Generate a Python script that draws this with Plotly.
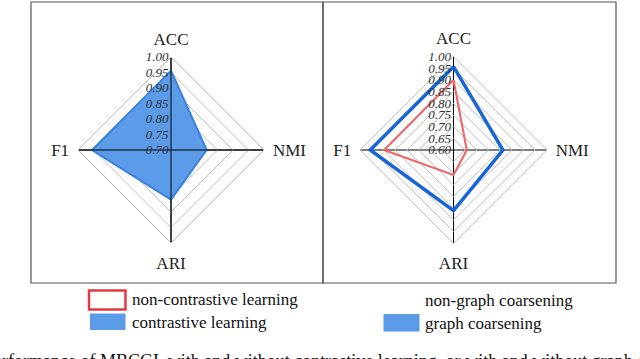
import plotly.graph_objects as go

# ---------------- data ----------------
metrics = ["ACC", "NMI", "ARI", "F1"]

# left panel: with contrastive learning
contrastive = [0.956, 0.815, 0.860, 0.955]

# right panel
graph_coarsening = [0.957, 0.812, 0.860, 0.957]
non_graph_coarsening = [0.900, 0.657, 0.707, 0.897]

left_range = [0.70, 1.00]
right_range = [0.60, 1.00]
tick_step = 0.05

legend_left = ["non-contrastive learning", "contrastive learning"]
legend_right = ["non-graph coarsening", "graph coarsening"]

caption = "Performance of MBCGL with and without contrastive learning, or with and without graph coarsening"

# ---------------- style ----------------
W, H = 640, 359
SERIF = "Liberation Serif"
FILL_BLUE = "#5B9BE8"
EDGE_BLUE = "#3A82E0"
LINE_BLUE = "#1766D9"
LINE_RED = "#EE6A6A"
BOX_RED = "#E23A3F"
GRID = "#BDBDBD"


def px(x):
    return x / W


def py(y):
    return 1 - y / H


def closed(vals):
    return list(vals) + [vals[0]]


def spokes(rng):
    r, t = [], []
    for m in metrics:
        r += [rng[0], rng[1], None]
        t += [m, m, None]
    return r, t


fig = go.Figure()

# left panel
fig.add_trace(go.Scatterpolar(
    r=closed(contrastive), theta=closed(metrics), mode="lines",
    fill="toself", fillcolor=FILL_BLUE,
    line=dict(color=EDGE_BLUE, width=2), subplot="polar", showlegend=False,
    name=legend_left[1]))
sr, st = spokes(left_range)
fig.add_trace(go.Scatterpolar(r=sr, theta=st, mode="lines",
                              line=dict(color="black", width=1),
                              subplot="polar", showlegend=False, hoverinfo="skip"))

# right panel
fig.add_trace(go.Scatterpolar(
    r=closed(non_graph_coarsening), theta=closed(metrics), mode="lines",
    line=dict(color=LINE_RED, width=2.2), subplot="polar2", showlegend=False,
    name=legend_right[0]))
fig.add_trace(go.Scatterpolar(
    r=closed(graph_coarsening), theta=closed(metrics), mode="lines",
    line=dict(color=LINE_BLUE, width=3.5), subplot="polar2", showlegend=False,
    name=legend_right[1]))


def polar_layout(domx, domy, rng):
    return dict(
        domain=dict(x=domx, y=domy),
        gridshape="linear",
        bgcolor="rgba(0,0,0,0)",
        radialaxis=dict(
            range=rng, dtick=tick_step, tick0=rng[0], tickformat=".2f",
            angle=90, tickangle=90, side="counterclockwise",
            showline=False, ticks="", gridcolor=GRID, gridwidth=1,
            tickfont=dict(family=SERIF, size=13, color="#333", style="italic"),
        ),
        angularaxis=dict(
            categoryarray=metrics, categoryorder="array",
            rotation=90, direction="clockwise",
            showline=True, linecolor=GRID, linewidth=1,
            gridcolor="black", gridwidth=1,
            ticks="outside", ticklen=5, tickcolor="rgba(0,0,0,0)",
            tickfont=dict(family=SERIF, size=17, color="#222"),
        ),
    )


cxl, cyl, rl = 171, 150, 93
cxr, cyr, rr = 453.5, 150, 93.3
fig.update_layout(
    width=W, height=H,
    margin=dict(l=0, r=0, t=0, b=0),
    paper_bgcolor="white",
    font=dict(family=SERIF),
    polar=polar_layout([px(cxl - rl), px(cxl + rl)], [py(cyl + rl), py(cyl - rl)], left_range),
    polar2=polar_layout([px(cxr - rr), px(cxr + rr)], [py(cyr + rr), py(cyr - rr)], right_range),
    showlegend=False,
)

shapes = [
    # panel frames
    dict(type="rect", xref="paper", yref="paper", x0=px(31), x1=px(323), y0=py(283), y1=py(2),
         line=dict(color="#555", width=1.2)),
    dict(type="rect", xref="paper", yref="paper", x0=px(323), x1=px(616), y0=py(283), y1=py(2),
         line=dict(color="#555", width=1.2)),
    # legend swatches
    dict(type="rect", xref="paper", yref="paper", x0=px(89), x1=px(125.5), y0=py(309.5), y1=py(290.5),
         line=dict(color=BOX_RED, width=2.5), fillcolor="white"),
    dict(type="rect", xref="paper", yref="paper", x0=px(90), x1=px(125.5), y0=py(330), y1=py(313.5),
         line=dict(color=FILL_BLUE, width=0), fillcolor=FILL_BLUE),
    dict(type="rect", xref="paper", yref="paper", x0=px(383.5), x1=px(419.5), y0=py(331.5), y1=py(314),
         line=dict(color=FILL_BLUE, width=0), fillcolor=FILL_BLUE),
]

annotations = []
for txt, y in zip(legend_left, [299, 322]):
    annotations.append(dict(text=txt, x=px(130), y=py(y), xref="paper", yref="paper",
                            xanchor="left", yanchor="middle", showarrow=False,
                            font=dict(family=SERIF, size=17, color="#111")))
for txt, y in zip(legend_right, [300, 323]):
    annotations.append(dict(text=txt, x=px(423), y=py(y), xref="paper", yref="paper",
                            xanchor="left", yanchor="middle", showarrow=False,
                            font=dict(family=SERIF, size=17, color="#111")))
annotations.append(dict(text=caption, x=px(-18), y=py(361), xref="paper", yref="paper",
                        xanchor="left", yanchor="middle", showarrow=False,
                        font=dict(family=SERIF, size=18, color="#111")))

fig.update_layout(shapes=shapes, annotations=annotations)

fig.write_html("out.html", config={"displayModeBar": False},
               post_script="document.body.style.margin='0px';")
